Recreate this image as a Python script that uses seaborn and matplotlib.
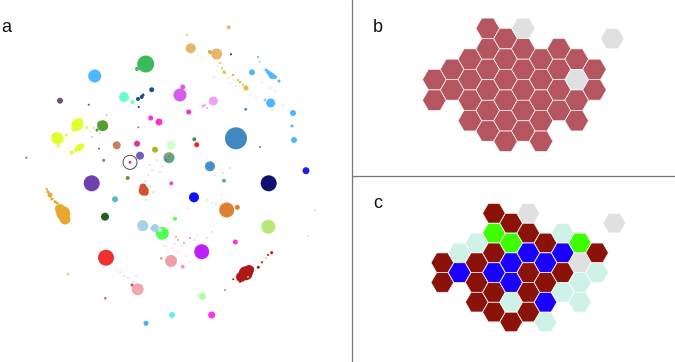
import numpy as np
import pandas as pd
import matplotlib.pyplot as plt
import seaborn as sns

sns.set_theme(style='white')
plt.rcParams['font.family'] = ['Liberation Sans', 'DejaVu Sans']

W, H = 675, 362

# panel a: clusters in pixels (x, y, diameter, colour)
blob_x = [228.7, 187, 190.7, 216.7, 210, 231, 220, 224, 233, 240, 246,
          252, 258, 260, 268, 272, 279, 270.7, 265, 293, 292, 294, 260,
          145.7, 137, 94.7, 124, 132.7, 141.7, 138, 151.7, 138.7,
          180, 182.7, 188.7, 213.3, 203, 245.7, 60, 88.7, 150.7, 159, 138.3,
          77.3, 57.3, 79.3, 71.7, 86.7, 66.7, 58.3, 102.7, 106.7,
          116.7, 137, 155, 171, 169, 140, 194.3, 196.7, 99, 103.7, 26.3, 130,
          236, 210, 306, 268.7, 91.7, 127.7,
          63.3, 50, 46.7, 55, 115, 105, 143.7, 171.3, 224, 194, 226.7, 237.3,
          268.3, 315, 307.7, 142.7, 151.7, 162.3, 175, 201.7, 235.3,
          106, 171, 182.7, 161.3, 68.3, 245.7, 233.3, 258.3, 271.7,
          137.7, 105.3, 202.3, 172, 211.7, 146]
blob_y = [27.3, 35, 48.3, 54, 52, 54.3, 63, 72, 75, 82, 88,
          72.3, 57, 62, 72, 76, 81, 103, 100, 113, 126, 140, 147,
          64, 69, 76, 97, 102, 97, 99, 89.7, 107,
          95, 87, 112, 101, 106, 109.3, 100.7, 104.7, 118, 122, 127.3,
          124.7, 138.3, 147.7, 152.7, 127.7, 135, 145.7, 125.7, 115,
          145.3, 143.7, 149.7, 145.3, 157.7, 155.7, 139.3, 144.7, 148.7, 160.3, 157.7, 162.3,
          138.3, 166.3, 170.7, 183.3, 183.3, 178,
          213.3, 195, 189.3, 201.7, 199.3, 216.7, 190.7, 183.3, 180.7, 197.3, 210, 207.3,
          226.7, 210, 236, 225.7, 228.3, 233.3, 218.7, 251.7, 242,
          257.7, 261, 266.7, 258.3, 274, 273.3, 279.3, 267.3, 252.7,
          289.3, 298.3, 296.3, 315, 315, 323.3]
blob_d = [4, 2, 10, 11, 4, 2, 2, 3, 2.5, 2.5, 5,
          6, 2, 1.5, 4, 6, 3, 9, 3, 6, 3, 6, 2,
          17, 4, 13, 10, 4, 4, 4, 5, 2,
          13, 5, 5, 9, 3, 3, 6, 2, 5, 7, 2,
          12, 12, 7, 4, 3, 3, 3, 11, 1.5,
          8, 6, 6, 9, 11, 8, 4, 5, 2, 3, 2, 3,
          22, 10, 7, 16, 16, 4,
          14, 5, 2.5, 3, 6, 8, 10, 4, 4, 10, 15, 5,
          14, 1.5, 1.5, 11, 3, 13, 4, 15, 5,
          16, 12, 4, 3, 2.5, 14, 2, 3, 3,
          12, 2.5, 7, 6, 7, 5]
blob_c = ['#E8B866', '#E8C080', '#E6B565', '#E6B565', '#E6A050', '#223344', '#E5BC3A', '#E5BC3A', '#E5BC3A', '#E5BC3A', '#E5BC3A',
          '#4DB8FF', '#4DB8FF', '#4DB8FF', '#4DB8FF', '#4DB8FF', '#4DB8FF', '#4DB8FF', '#8DD0FF', '#4DB8FF', '#4DB8FF', '#4DB8FF', '#4488C0',
          '#3DB85C', '#3DB85C', '#4DB8FF', '#6DFFC8', '#6DFFC8', '#1F4F80', '#1F4F80', '#1F4F80', '#2020E0',
          '#D65CF0', '#D65CF0', '#F030E0', '#F0A0F5', '#F0A0F5', '#55A060', '#7A4A85', '#7A4A85', '#FF30D0', '#FF30D0', '#5A9A90',
          '#E0FF30', '#E0FF30', '#E0FF30', '#E0FF30', '#E0FF30', '#E0FF30', '#E0FF30', '#55A030', '#70C030',
          '#C88060', '#E0309A', '#B0B030', '#D0FFD0', '#60A880', '#7060C0', '#409060', '#FF2020', '#507060', '#8070B0', '#9060A0', '#C05060',
          '#4088C0', '#4490C8', '#2020E0', '#101070', '#7040B0', '#709040',
          '#E8A830', '#E8A830', '#E8A830', '#E8A830', '#50C0B0', '#206020', '#D05030', '#FF40E0', '#60B090', '#1010FF', '#DD8030', '#DD8030',
          '#B8E878', '#E8C060', '#B0D8E0', '#A8D0E8', '#A8D0E8', '#50FF50', '#50FF50', '#C020FF', '#FF30E0',
          '#F03030', '#F0A0A8', '#F0A0A8', '#F0A0A8', '#F0C060', '#B01818', '#B01818', '#B01818', '#B01818',
          '#F0A8B0', '#F05050', '#A8FFA0', '#60F0F0', '#FF30F0', '#40B0FF']

# extra lobes and tails that give the clusters their shape
lobe_x = [60, 65, 52, 48, 57, 266, 270, 275, 222, 225, 238, 243,
          74, 80, 55, 60, 76, 82, 241, 249, 253, 262, 268, 240, 225, 143, 132,
          155, 160, 215, 205, 207, 99, 97, 169, 166, 172, 168, 248,
          143, 146, 176, 178, 184, 190]
lobe_y = [209, 219, 199, 192, 203, 70, 74, 77, 68, 73, 80, 85,
          129, 121, 136, 140, 150, 146, 277, 270, 268, 262, 255, 282, 290, 95, 285,
          228, 230, 101, 105, 108, 123, 130, 156, 160, 160, 154, 277,
          187, 193, 237, 240, 243, 238]
lobe_d = [10, 11, 3, 3, 3, 3, 5, 4, 2, 2, 2, 2,
          5, 6, 7, 7, 4, 5, 10, 10, 2, 2, 2, 2, 1.5, 3, 3,
          8, 4, 5, 2, 2, 3, 3, 2, 2, 2, 2, 2,
          7, 5, 2, 2, 2, 2]
lobe_c = ['#E8A830'] * 5 + ['#4DB8FF'] * 3 + ['#E5BC3A'] * 4 + \
         ['#E0FF30'] * 6 + ['#B01818'] * 7 + ['#1F4F80'] + ['#D05050'] + \
         ['#A8D0E8'] + ['#D0F0F0'] + ['#F0A0F5'] * 3 + ['#55A030'] * 2 + \
         ['#F05050', '#5050F0', '#40C040', '#E0A040', '#70C870'] + \
         ['#D05030'] * 2 + ['#F0A0A8'] * 2 + ['#D090F0'] * 2

# thin scatter of stray points between the clusters
speck_x = [198, 203, 214, 218, 222, 227, 230, 236, 243, 250, 256, 214, 229, 262, 270, 275, 283, 272,
           77, 72, 69, 66, 83, 90, 94, 97, 81, 75, 92, 100,
           150, 152, 148, 145, 157, 160, 163, 150, 153, 146,
           166, 172, 178, 181, 168, 175, 186, 190, 176, 165, 194, 207, 212, 214, 197, 170, 178,
           207, 212, 216, 220, 223, 230, 252, 262, 266,
           120, 124, 133, 136, 128, 146, 152, 170, 180, 188, 222, 228, 215]
speck_y = [55, 58, 60, 66, 70, 78, 83, 86, 92, 95, 97, 77, 78, 82, 88, 91, 105, 110,
           130, 134, 138, 142, 133, 132, 128, 131, 146, 150, 137, 133,
           165, 170, 175, 181, 160, 172, 166, 186, 192, 200,
           240, 248, 252, 246, 252, 244, 256, 262, 258, 246, 240, 238, 232, 226, 235, 228, 238,
           200, 203, 204, 206, 173, 168, 268, 263, 258,
           272, 276, 282, 276, 278, 205, 208, 212, 205, 208, 195, 202, 175]
speck_c = ['#E8C080'] * 11 + ['#E5BC3A'] * 2 + ['#8DD0FF'] * 5 + \
          ['#E0FF30'] * 6 + ['#70A040'] * 6 + \
          ['#80B080'] * 5 + ['#E08070'] * 5 + \
          ['#F0A0A8'] * 7 + ['#D090F0'] * 6 + ['#C0F0C0'] * 4 + \
          ['#E09050'] * 5 + ['#D060F0'] * 1 + ['#C03030'] * 3 + ['#F08080'] * 5 + \
          ['#C0FFC0'] * 4 + ['#E0A0F0'] * 4

# panel b and c: hexagon grid (column, row, state)
b_col = [3, 3, 3, 3, 3, 3, 4, 4, 4, 4, 4, 4, 5, 5, 5, 5, 5, 5, 6, 6, 6, 6, 6,
         7, 7, 7, 7, 8, 8, 8, 8, 9, 9, 10, 2, 2, 2, 2, 1, 1, 0, 0]
b_row = [0, 2, 4, 6, 8, 10, 1, 3, 5, 7, 9, 11, 0, 2, 4, 6, 8, 10, 3, 5, 7, 9, 11,
         2, 4, 6, 8, 3, 5, 7, 9, 4, 6, 1, 3, 5, 7, 9, 4, 6, 5, 7]
b_state = ['hit'] * 12 + ['empty'] + ['hit'] * 5 + ['hit'] * 5 + \
          ['hit'] * 4 + ['hit', 'empty', 'hit', 'hit'] + ['hit', 'hit'] + ['empty'] + \
          ['hit'] * 8

c_col = [0, 0, 1, 1, 2, 2, 2, 2, 3, 3, 3, 3, 3, 3, 4, 4, 4, 4, 4, 4, 5, 5, 5, 5, 5, 5,
         6, 6, 6, 6, 6, 7, 7, 7, 7, 8, 8, 8, 8, 9, 9, 10]
c_row = [5, 7, 4, 6, 3, 5, 7, 9, 0, 2, 4, 6, 8, 10, 1, 3, 5, 7, 9, 11, 0, 2, 4, 6, 8, 10,
         3, 5, 7, 9, 11, 2, 4, 6, 8, 3, 5, 7, 9, 4, 6, 1]
c_state = ['red', 'red', 'mint', 'blue', 'mint', 'red', 'red', 'red',
           'red', 'green', 'red', 'blue', 'red', 'red',
           'red', 'green', 'blue', 'blue', 'mint', 'red',
           'empty', 'red', 'blue', 'red', 'red', 'red',
           'red', 'blue', 'red', 'blue', 'mint',
           'mint', 'blue', 'red', 'mint',
           'green', 'empty', 'mint', 'mint', 'red', 'mint', 'empty']

b_colors = {'hit': '#B5555F', 'empty': '#E0E0E0'}
c_colors = {'red': '#8B1208', 'blue': '#1A00FF', 'green': '#3DFF00',
            'mint': '#CFF2E8', 'empty': '#E0E0E0'}


def px_size(d):
    # pixel diameter to marker area in points^2
    return (np.asarray(d, dtype=float) * 0.72) ** 2


fig = plt.figure(figsize=(W / 100, H / 100), dpi=100, facecolor='white')

# Panel a, axes in pixel units of the figure
ax = fig.add_axes([0, 0, 1, 1])
ax.set_xlim(0, W)
ax.set_ylim(H, 0)
ax.axis('off')

specks = pd.DataFrame({'x': speck_x, 'y': speck_y, 'c': speck_c})
sns.scatterplot(data=specks, x='x', y='y', hue='c',
                palette={c: c for c in set(speck_c)}, s=px_size(1.3),
                linewidth=0, alpha=0.8, legend=False, ax=ax)

# big blobs first so the small mixed-colour spots stay on top
# reset_index matters: seaborn puts rows back in index order, the sizes would not follow
blobs = pd.DataFrame({'x': blob_x + lobe_x, 'y': blob_y + lobe_y,
                      'd': blob_d + lobe_d, 'c': blob_c + lobe_c})
blobs = blobs.sort_values('d', ascending=False).reset_index(drop=True)
sns.scatterplot(data=blobs, x='x', y='y', hue='c',
                palette={c: c for c in set(blobs['c'])}, s=px_size(blobs['d']),
                marker='o', linewidth=0, legend=False, ax=ax)

# circled cluster
sns.scatterplot(x=[130], y=[162.3], s=px_size(14), facecolor='none',
                edgecolor='#333333', linewidth=0.6, ax=ax)

# Panel dividers
ax.plot([352, 352], [0, H], color='#777777', lw=0.9)
ax.plot([352, W], [176, 176], color='#777777', lw=0.9)

ax.text(1, 28, 'a', fontsize=13, va='center', ha='left', color='#111111')
ax.text(373, 28, 'b', fontsize=13, va='center', ha='left', color='#111111')
ax.text(373, 203, 'c', fontsize=13, va='center', ha='left', color='#111111')


def hex_panel(x0, y0, dx, dy, cols, rows, states, colors, hex_w):
    # axes whose units are grid columns and rows
    a = fig.add_axes([(x0 - dx) / W, 1 - (y0 + 12 * dy) / H, 12 * dx / W, 13 * dy / H])
    a.set_xlim(-1, 11)
    a.set_ylim(12, -1)
    a.axis('off')
    a.patch.set_alpha(0)
    df = pd.DataFrame({'col': cols, 'row': rows, 'state': states})
    sns.scatterplot(data=df, x='col', y='row', hue='state', palette=colors,
                    marker='H', s=px_size(hex_w), edgecolor='white',
                    linewidth=0.4, legend=False, ax=a)


hex_panel(434.3, 28.3, 17.8, 10.27, b_col, b_row, b_state, b_colors, 23.5)
hex_panel(442.3, 213.3, 17.2, 9.88, c_col, c_row, c_state, c_colors, 22.5)

fig.savefig('out.png', dpi=100)
